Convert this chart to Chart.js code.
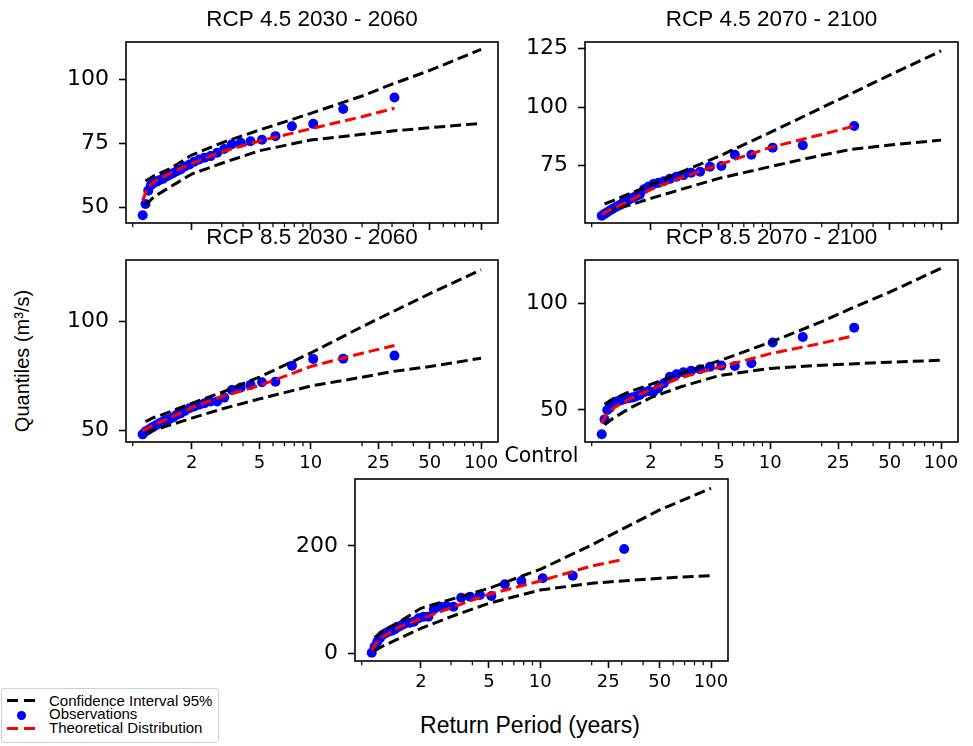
<!DOCTYPE html>
<html>
<head>
<meta charset="utf-8">
<script src="https://cdn.jsdelivr.net/npm/chart.js@4.4.0/dist/chart.umd.min.js"></script>
<style>
  body { margin: 0; background: #fff; width: 973px; height: 746px; position: relative; overflow: hidden;
         font-family: 'Liberation Sans', Arial, sans-serif; color: #000; }
  canvas { position: absolute; }
  .ylabel { position: absolute; left: 22px; top: 361px; transform: translate(-50%, -50%) rotate(-90deg);
            font-size: 20px; white-space: nowrap; }
  .xlabel { position: absolute; left: 530px; top: 725px; transform: translate(-50%, -50%);
            font-size: 23px; white-space: nowrap; }
  .legend { position: absolute; left: 1px; top: 688px; width: 216px; height: 53px;
            border: 1px solid #cfcfcf; border-radius: 3px; background: #fff; }
  .legend .txt { position: absolute; left: 47px; font-size: 15px; line-height: 14px; white-space: nowrap; }
  .legend .dash { position: absolute; width: 11px; height: 3px; }
  .legend .dot { position: absolute; width: 9px; height: 9px; border-radius: 50%; background: #0000ff; }
</style>
</head>
<body>
<div class="ylabel">Quantiles (m³/s)</div>
<div class="xlabel">Return Period (years)</div>
<div class="legend">
  <div class="dash" style="left:5px; top:10px; background:#000"></div>
  <div class="dash" style="left:22px; top:10px; background:#000"></div>
  <div class="txt" style="top:5px">Confidence Interval 95%</div>
  <div class="dot" style="left:15px; top:22px"></div>
  <div class="txt" style="top:18px">Observations</div>
  <div class="dash" style="left:5px; top:38px; background:#ff0000"></div>
  <div class="dash" style="left:22px; top:38px; background:#ff0000"></div>
  <div class="txt" style="top:32px">Theoretical Distribution</div>
</div>
<script>
// return periods (years) of the plotted points
const obsReturnPeriod = [1.03, 1.07, 1.11, 1.15, 1.19, 1.24, 1.29, 1.35, 1.41, 1.48,
  1.55, 1.63, 1.72, 1.82, 1.94, 2.07, 2.21, 2.38, 2.58, 2.82,
  3.1, 3.44, 3.88, 4.43, 5.17, 6.2, 7.75, 10.33, 15.5, 31];
const theoReturnPeriod = [1.03, 1.1, 1.2, 1.5, 2, 3, 5, 10, 20, 31];
const ciReturnPeriod = [1.07, 1.2, 1.5, 2, 3, 5, 10, 20, 30, 50, 100];

const xTickLabels = [2, 5, 10, 25, 50, 100];
const xMinorTicks = [0.9, 3, 4, 6, 7, 8, 9, 20, 30, 40, 60, 70, 80, 90];

// RCP 4.5 2030 - 2060
const rcp45a_obs = [46.8, 51.2, 56.4, 58.5, 59.3, 59.9, 60.5, 61.0, 61.8, 62.5,
  63.2, 64.0, 64.7, 65.8, 66.6, 67.7, 68.6, 69.3, 69.9, 71.2,
  72.7, 74.5, 75.1, 75.7, 76.3, 77.7, 81.6, 82.5, 88.3, 92.8];
const rcp45a_theo = [52.5, 57.5, 59.9, 63.2, 67.1, 71.6, 75.8, 80.6, 85.3, 88.6];
const rcp45a_upper = [60.2, 62.2, 65.1, 70.3, 75.1, 80.1, 86.6, 93.4, 98.0, 103.4, 111.6];
const rcp45a_lower = [50.8, 54.0, 57.9, 62.9, 67.1, 72.0, 76.2, 78.4, 79.7, 81.0, 82.7];
const rcp45a_yTicks = [50, 75, 100];

// RCP 4.5 2070 - 2100
const rcp45b_obs = [53.7, 54.5, 55.2, 55.9, 56.6, 57.3, 58.0, 58.8, 59.6, 60.5,
  61.2, 62.0, 62.6, 65.0, 66.2, 67.2, 67.7, 68.4, 69.4, 70.3,
  71.0, 72.0, 72.4, 74.6, 74.9, 79.7, 79.7, 82.7, 83.7, 91.9];
const rcp45b_theo = [54.4, 55.4, 56.8, 60.1, 64.9, 69.9, 75.4, 82.8, 88.3, 91.9];
const rcp45b_upper = [58.7, 60.1, 63.1, 66.9, 72.3, 79.0, 89.2, 99.7, 105.8, 113.6, 123.9];
const rcp45b_lower = [55.0, 56.1, 58.2, 61.1, 64.9, 69.6, 74.6, 79.5, 82.0, 83.8, 85.9];
const rcp45b_yTicks = [75, 100, 125];

// RCP 8.5 2030 - 2060
const rcp85a_obs = [48.3, 49.6, 50.3, 51.1, 51.8, 52.6, 53.4, 54.1, 54.9, 55.3,
  56.0, 57.2, 57.9, 59.0, 60.2, 61.0, 61.8, 62.5, 63.3, 63.3,
  65.1, 68.6, 69.7, 70.9, 72.1, 72.4, 79.7, 82.8, 82.9, 84.3];
const rcp85a_theo = [50.0, 51.1, 52.6, 56.0, 60.5, 65.6, 70.6, 79.3, 85.4, 88.9];
const rcp85a_upper = [54.1, 56.0, 58.7, 62.5, 67.5, 74.5, 85.5, 97.5, 104.2, 112.6, 123.5];
const rcp85a_lower = [48.8, 50.3, 52.6, 55.7, 59.9, 64.5, 70.4, 74.4, 77.0, 79.3, 83.1];
const rcp85a_yTicks = [50, 100];

// RCP 8.5 2070 - 2100
const rcp85b_obs = [38.6, 45.6, 50.0, 51.1, 53.1, 53.9, 54.2, 54.7, 55.2, 55.5,
  55.8, 56.3, 57.0, 58.3, 58.9, 58.6, 60.2, 62.5, 65.6, 66.7,
  67.7, 68.4, 69.1, 70.3, 70.8, 70.6, 71.9, 81.6, 84.2, 88.6];
const rcp85b_theo = [43.8, 48.0, 50.8, 55.2, 59.7, 65.2, 70.0, 76.4, 81.3, 84.9];
const rcp85b_upper = [52.7, 55.2, 58.6, 62.0, 67.2, 73.0, 81.7, 91.4, 97.7, 105.2, 116.4];
const rcp85b_lower = [43.0, 46.1, 50.8, 55.8, 60.9, 66.1, 69.5, 71.0, 71.6, 72.4, 73.3];
const rcp85b_yTicks = [50, 100];

// Control
const control_obs = [1.2, 12.4, 21.7, 28.0, 34.2, 37.3, 40.4, 42.2, 44.7, 49.7,
  52.8, 55.9, 57.1, 59.0, 65.2, 68.3, 68.3, 82.0, 87.0, 88.2,
  87.0, 103.7, 105.6, 108.7, 106.9, 128.6, 134.8, 139.8, 144.7, 194.4];
const control_theo = [6.2, 19.9, 31.0, 49.7, 64.0, 85.1, 109.9, 134.8, 162.8, 175.2];
const control_upper = [29.0, 42.2, 59.0, 83.9, 100.6, 121.1, 156.5, 201.9, 231.1, 267.1, 307.5];
const control_lower = [5.0, 13.7, 27.9, 46.6, 68.3, 93.2, 118.0, 130.5, 134.8, 139.8, 144.7];
const control_yTicks = [0, 200];

// layout
const Y_AXIS_W = 75, TITLE_H = 38, X_AXIS_H = 42, PAD_R = 14;
const X_MIN = 0.822, X_MAX = 125.7;
const TITLE_FONT = "'Liberation Sans', Arial, sans-serif";
const TICK_FONT = "'DejaVu Sans', sans-serif";

const panels = [
  { title: 'RCP 4.5 2030 - 2060', x: 126, y: 42, w: 372, h: 181, yMin: 43.75, yMax: 114.5, showX: false,
    obs: rcp45a_obs, theo: rcp45a_theo, upper: rcp45a_upper, lower: rcp45a_lower, yTicks: rcp45a_yTicks },
  { title: 'RCP 4.5 2070 - 2100', x: 585, y: 42, w: 373, h: 181, yMin: 50.6, yMax: 127.7, showX: false,
    obs: rcp45b_obs, theo: rcp45b_theo, upper: rcp45b_upper, lower: rcp45b_lower, yTicks: rcp45b_yTicks },
  { title: 'RCP 8.5 2030 - 2060', x: 126, y: 260, w: 372, h: 182, yMin: 44.8, yMax: 128, showX: true,
    obs: rcp85a_obs, theo: rcp85a_theo, upper: rcp85a_upper, lower: rcp85a_lower, yTicks: rcp85a_yTicks },
  { title: 'RCP 8.5 2070 - 2100', x: 585, y: 260, w: 373, h: 182, yMin: 35, yMax: 120.3, showX: true,
    obs: rcp85b_obs, theo: rcp85b_theo, upper: rcp85b_upper, lower: rcp85b_lower, yTicks: rcp85b_yTicks },
  { title: 'Control', titleFont: TICK_FONT, titleSize: 20.5, x: 355, y: 479, w: 373, h: 182, yMin: -14.3, yMax: 324.8, showX: true,
    obs: control_obs, theo: control_theo, upper: control_upper, lower: control_lower, yTicks: control_yTicks }
];

const pts = (xs, ys) => xs.map((x, i) => ({ x: x, y: ys[i] }));

// axes box on all four sides
const framePlugin = {
  id: 'frame',
  afterDraw(chart) {
    const a = chart.chartArea, ctx = chart.ctx;
    ctx.save();
    ctx.strokeStyle = '#000';
    ctx.lineWidth = 1.6;
    ctx.strokeRect(a.left, a.top, a.right - a.left, a.bottom - a.top);
    ctx.restore();
  }
};

// short unlabeled ticks of the log axis
const minorTickPlugin = {
  id: 'minorTicks',
  afterDraw(chart) {
    const sx = chart.scales.x, a = chart.chartArea, ctx = chart.ctx;
    ctx.save();
    ctx.strokeStyle = '#000';
    ctx.lineWidth = 1.2;
    xMinorTicks.forEach(v => {
      const px = sx.getPixelForValue(v);
      ctx.beginPath();
      ctx.moveTo(px, a.bottom);
      ctx.lineTo(px, a.bottom + 4.2);
      ctx.stroke();
    });
    ctx.restore();
  }
};

function makePanel(p) {
  const W = Y_AXIS_W + p.w + PAD_R, H = TITLE_H + p.h + X_AXIS_H;
  const canvas = document.createElement('canvas');
  canvas.width = W;
  canvas.height = H;
  canvas.style.left = (p.x - Y_AXIS_W) + 'px';
  canvas.style.top = (p.y - TITLE_H) + 'px';
  canvas.style.width = W + 'px';
  canvas.style.height = H + 'px';
  document.body.appendChild(canvas);

  const lineStyle = { showLine: true, fill: false, tension: 0, borderWidth: 3, borderDash: [11, 5], pointRadius: 0 };

  new Chart(canvas, {
    type: 'scatter',
    data: {
      datasets: [
        Object.assign({ label: 'Theoretical Distribution', data: pts(theoReturnPeriod, p.theo), borderColor: '#ff0000', order: 0 }, lineStyle),
        Object.assign({ label: 'Confidence Interval 95%', data: pts(ciReturnPeriod, p.upper), borderColor: '#000000', order: 1 }, lineStyle),
        Object.assign({ label: 'Confidence Interval 95% (lower)', data: pts(ciReturnPeriod, p.lower), borderColor: '#000000', order: 1 }, lineStyle),
        { label: 'Observations', data: pts(obsReturnPeriod, p.obs), pointRadius: 5, pointBackgroundColor: '#0000ff',
          pointBorderColor: '#0000ff', pointBorderWidth: 0, showLine: false, order: 2 }
      ]
    },
    options: {
      responsive: false,
      animation: false,
      devicePixelRatio: 1,
      layout: { padding: { left: 0, right: PAD_R, top: 0, bottom: 0 } },
      plugins: {
        legend: { display: false },
        tooltip: { enabled: false },
        title: {
          display: true, fullSize: false, text: p.title, color: '#000',
          font: { family: p.titleFont || TITLE_FONT, size: p.titleSize || 22.5, weight: 'normal', lineHeight: '25px' },
          padding: { top: 3, bottom: 10 }
        }
      },
      scales: {
        x: {
          type: 'logarithmic', min: X_MIN, max: X_MAX, bounds: 'data',
          afterBuildTicks: s => { s.ticks = xTickLabels.map(v => ({ value: v })); },
          afterFit: s => { s.height = X_AXIS_H; },
          ticks: { callback: v => (p.showX ? String(v) : ''), autoSkip: false, maxRotation: 0,
                   color: '#000', padding: 4, font: { family: TICK_FONT, size: 18 } },
          grid: { display: true, drawOnChartArea: false, drawTicks: true, tickLength: 7, tickWidth: 1.6, tickColor: '#000' },
          border: { display: false }
        },
        y: {
          type: 'linear', min: p.yMin, max: p.yMax,
          afterBuildTicks: s => { s.ticks = p.yTicks.map(v => ({ value: v })); },
          afterFit: s => { s.width = Y_AXIS_W; },
          ticks: { callback: v => String(v), color: '#000', padding: 10, font: { family: TICK_FONT, size: 22 } },
          grid: { display: true, drawOnChartArea: false, drawTicks: true, tickLength: 7, tickWidth: 1.6, tickColor: '#000' },
          border: { display: false }
        }
      }
    },
    plugins: [framePlugin, minorTickPlugin]
  });
}

panels.forEach(makePanel);
</script>
</body>
</html>
